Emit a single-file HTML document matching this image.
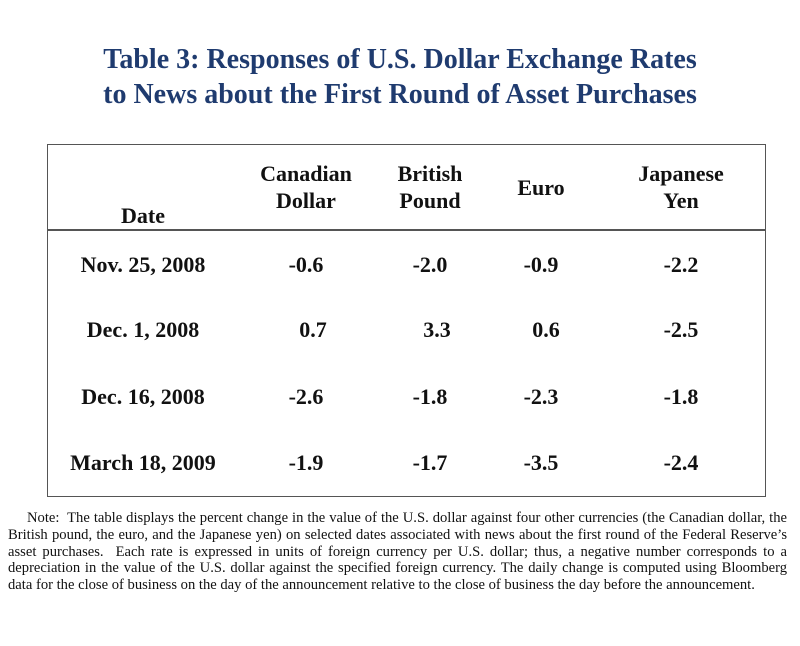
<!DOCTYPE html>
<html><head><style>
body{margin:0;width:800px;height:646px;background:#fff;position:relative;font-family:"Liberation Serif","Times New Roman",Times,serif;overflow:hidden}
.t{position:absolute;left:0;width:800px;text-align:center;color:#1f3b6f;font-weight:bold;font-size:28px;line-height:34px}
.c{position:absolute;width:200px;margin-left:-100px;margin-top:-13px;text-align:center;font-family:"Liberation Serif","Times New Roman",serif;font-weight:bold;font-size:22px;line-height:26px;white-space:nowrap;color:#111}
.box{position:absolute;left:47px;top:144px;width:717px;height:351px;border:1.5px solid #555}
.hl{position:absolute;left:47px;top:229px;width:719px;height:1.5px;background:#555}
.n{position:absolute;left:8px;width:779px;font-size:14.6px;line-height:16.7px;color:#111;text-align:justify;text-align-last:justify;white-space:nowrap}
</style></head><body>
<div class="t" style="top:43px">Table 3: Responses of U.S. Dollar Exchange Rates</div>
<div class="t" style="top:78px">to News about the First Round of Asset Purchases</div>
<div class="box"></div><div class="hl"></div>
<div class="c" style="left:143px;top:216px">Date</div>
<div class="c" style="left:306px;top:174px">Canadian</div><div class="c" style="left:306px;top:201px">Dollar</div>
<div class="c" style="left:430px;top:174px">British</div><div class="c" style="left:430px;top:201px">Pound</div>
<div class="c" style="left:541px;top:188px">Euro</div>
<div class="c" style="left:681px;top:174px">Japanese</div><div class="c" style="left:681px;top:201px">Yen</div>

<div class="c" style="left:143px;top:265px">Nov. 25, 2008</div>
<div class="c" style="left:306px;top:265px">-0.6</div><div class="c" style="left:430px;top:265px">-2.0</div><div class="c" style="left:541px;top:265px">-0.9</div><div class="c" style="left:681px;top:265px">-2.2</div>
<div class="c" style="left:143px;top:330px">Dec. 1, 2008</div>
<div class="c" style="left:313px;top:330px">0.7</div><div class="c" style="left:437px;top:330px">3.3</div><div class="c" style="left:546px;top:330px">0.6</div><div class="c" style="left:681px;top:330px">-2.5</div>
<div class="c" style="left:143px;top:397px">Dec. 16, 2008</div>
<div class="c" style="left:306px;top:397px">-2.6</div><div class="c" style="left:430px;top:397px">-1.8</div><div class="c" style="left:541px;top:397px">-2.3</div><div class="c" style="left:681px;top:397px">-1.8</div>
<div class="c" style="left:143px;top:463px">March 18, 2009</div>
<div class="c" style="left:306px;top:463px">-1.9</div><div class="c" style="left:430px;top:463px">-1.7</div><div class="c" style="left:541px;top:463px">-3.5</div><div class="c" style="left:681px;top:463px">-2.4</div>

<div class="n" style="top:510px;left:27px;width:760px">Note:&nbsp; The table displays the percent change in the value of the U.S. dollar against four other currencies (the Canadian dollar, the</div>
<div class="n" style="top:527px">British pound, the euro, and the Japanese yen) on selected dates associated with news about the first round of the Federal Reserve’s</div>
<div class="n" style="top:544px">asset purchases.&nbsp; Each rate is expressed in units of foreign currency per U.S. dollar; thus, a negative number corresponds to a</div>
<div class="n" style="top:560px">depreciation in the value of the U.S. dollar against the specified foreign currency. The daily change is computed using Bloomberg</div>
<div class="n" style="top:577px;text-align-last:left">data for the close of business on the day of the announcement relative to the close of business the day before the announcement.</div>
</body></html>
